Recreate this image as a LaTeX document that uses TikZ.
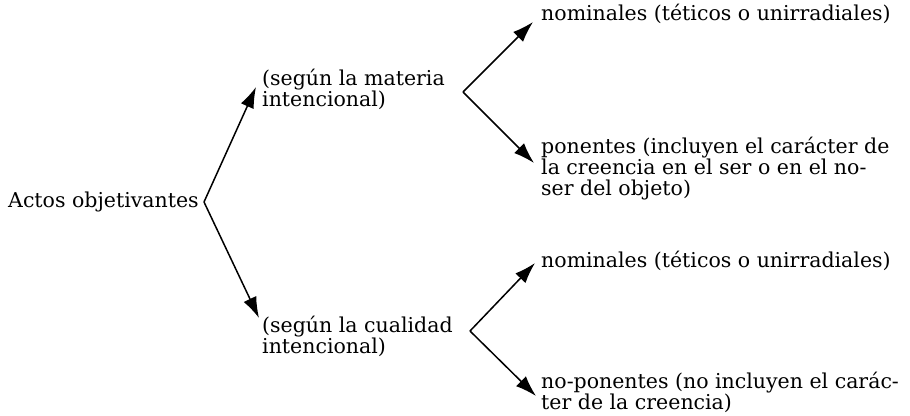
\documentclass[tikz,border=0pt]{standalone}
\usepackage{fontspec}
\setmainfont{DejaVu Serif}
\usetikzlibrary{arrows.meta}
\begin{document}
\begin{tikzpicture}[x=1pt,y=-1pt,
  txt/.style={anchor=base west,inner sep=0pt,align=left,font=\fontsize{20.5}{21}\selectfont},
  arr/.style={line width=1.5pt,-{Latex[length=21pt,width=14pt]}}]
\useasboundingbox (0,0) rectangle (910,415);
% texts (base = baseline of last line)
\node[txt] (actos) at (8,207) {Actos objetivantes};
\node[txt] (mat) at (262,106) {(según la materia\\intencional)};
\node[txt] (cual) at (262,353) {(según la cualidad\\intencional)};
\node[txt] (nom1) at (541,20) {nominales (téticos o unirradiales)};
\node[txt] (pon) at (541,195) {ponentes (incluyen el carácter de\\la creencia en el ser o en el no-\\ser del objeto)};
\node[txt] (nom2) at (541,267) {nominales (téticos o unirradiales)};
\node[txt] (nopon) at (541,409) {no-ponentes (no incluyen el carác-\\ter de la creencia)};
% vertices and tips
\coordinate (v0) at (204,202);
\coordinate (t1) at (256,87);
\coordinate (t2) at (259,318);
\coordinate (v1) at (463,92);
\coordinate (t3) at (533,22);
\coordinate (t4) at (534,163);
\coordinate (v2) at (470,331);
\coordinate (t5) at (535,263);
\coordinate (t6) at (536,396);
\draw[arr] (v0) -- (t1);
\draw[arr] (v0) -- (t2);
\draw[arr] (v1) -- (t3);
\draw[arr] (v1) -- (t4);
\draw[arr] (v2) -- (t5);
\draw[arr] (v2) -- (t6);
\end{tikzpicture}
\end{document}
